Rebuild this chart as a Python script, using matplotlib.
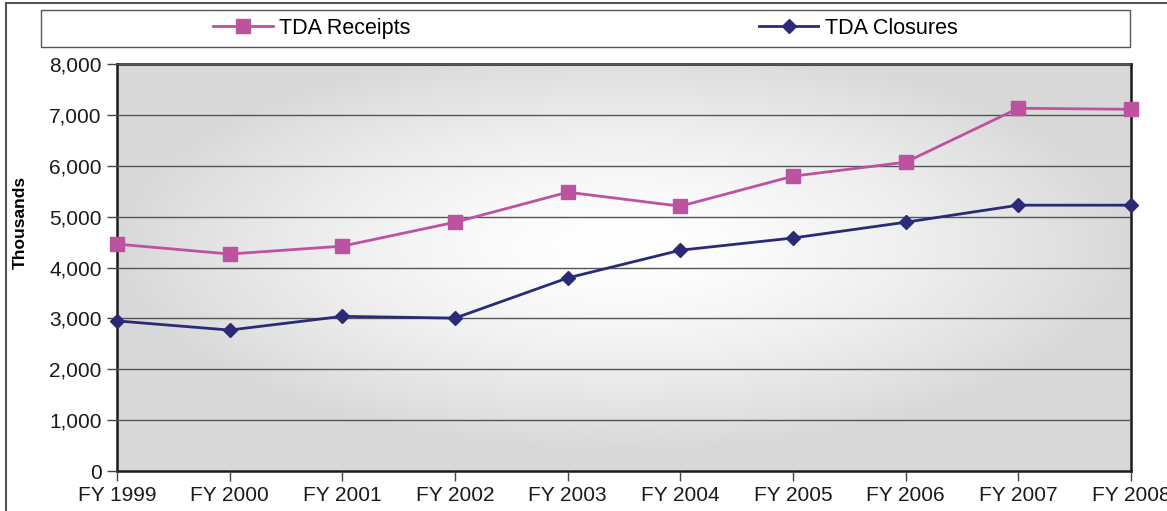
import numpy as np
import matplotlib
matplotlib.use("Agg")
import matplotlib.pyplot as plt
from matplotlib.patches import Rectangle
from matplotlib.lines import Line2D
from matplotlib.ticker import FuncFormatter

plt.rcParams['font.family'] = ['Liberation Sans', 'DejaVu Sans']

years = ["FY 1999", "FY 2000", "FY 2001", "FY 2002", "FY 2003",
         "FY 2004", "FY 2005", "FY 2006", "FY 2007", "FY 2008"]
receipts = [4460, 4265, 4420, 4890, 5480, 5205, 5795, 6070, 7130, 7110]
closures = [2950, 2770, 3040, 3005, 3795, 4340, 4580, 4890, 5225, 5225]

W, H = 1167, 511
fig = plt.figure(figsize=(W / 100, H / 100), dpi=100)
ax = fig.add_axes([117 / W, 1 - 471 / H, (1131 - 117) / W, (471 - 64) / H])

x = np.arange(len(years))

# radial gradient background
gx, gy = np.meshgrid(np.linspace(-1, 1, 400), np.linspace(-1, 1, 200))
r = np.clip(np.sqrt(gx ** 2 + (gy + 0.1) ** 2), 0, 1)
shade = 1.0 - 0.15 * r ** 1.5
img = np.dstack([shade, shade, shade])
ax.imshow(img, extent=[0, len(years) - 1, 0, 8000], aspect='auto',
          zorder=0, interpolation='bilinear')

ax.set_xlim(0, len(years) - 1)
ax.set_ylim(0, 8000)
ax.set_yticks(np.arange(0, 8001, 1000))
ax.yaxis.set_major_formatter(FuncFormatter(lambda v, p: f"{int(v):,}"))
ax.set_xticks(x)
ax.set_xticklabels(years)

ax.grid(axis='y', color='#555555', linewidth=1.0, zorder=1)
ax.set_axisbelow(False)

ax.plot(x, receipts, color='#BC52A0', linewidth=2.0, marker='s',
        markersize=10.5, markeredgecolor='#BC52A0', label='TDA Receipts',
        clip_on=False, zorder=3)
ax.plot(x, closures, color='#2B2A78', linewidth=2.0, marker='D',
        markersize=7, markeredgecolor='#2B2A78', label='TDA Closures',
        clip_on=False, zorder=4)

for s in ax.spines.values():
    s.set_linewidth(1.8)
    s.set_color('#1a1a1a')
ax.tick_params(axis='both', labelsize=15, length=7, width=1.0,
               color='#444444', labelcolor='#1a1a1a', pad=4)

fig.text(20 / W, 1 - 222 / H, "Thousands", rotation=90, ha='center',
         va='center', fontsize=12.5, fontweight='bold',
         family=['Liberation Sans Narrow', 'Liberation Sans', 'DejaVu Sans'])

# legend box
fig.add_artist(Rectangle((41 / W, 1 - 47 / H), (1130 - 41) / W, 37 / H,
                         transform=fig.transFigure, fill=False,
                         edgecolor='#555555', linewidth=1.0))
handles, labels = ax.get_legend_handles_labels()
fig.legend(handles, labels, loc='center', ncol=2,
           bbox_to_anchor=(585.5 / W, 1 - 28.5 / H), frameon=False,
           fontsize=15.5, handlelength=2.75, handletextpad=0.3,
           columnspacing=16.2)

# outer figure frame (partially visible)
fig.add_artist(Line2D([6 / W, 6 / W], [0, 1 - 3 / H], transform=fig.transFigure,
                      color='#555555', linewidth=1.5))
fig.add_artist(Line2D([6 / W, 1], [1 - 3 / H, 1 - 3 / H], transform=fig.transFigure,
                      color='#555555', linewidth=1.5))

fig.savefig("out.png", dpi=100)
